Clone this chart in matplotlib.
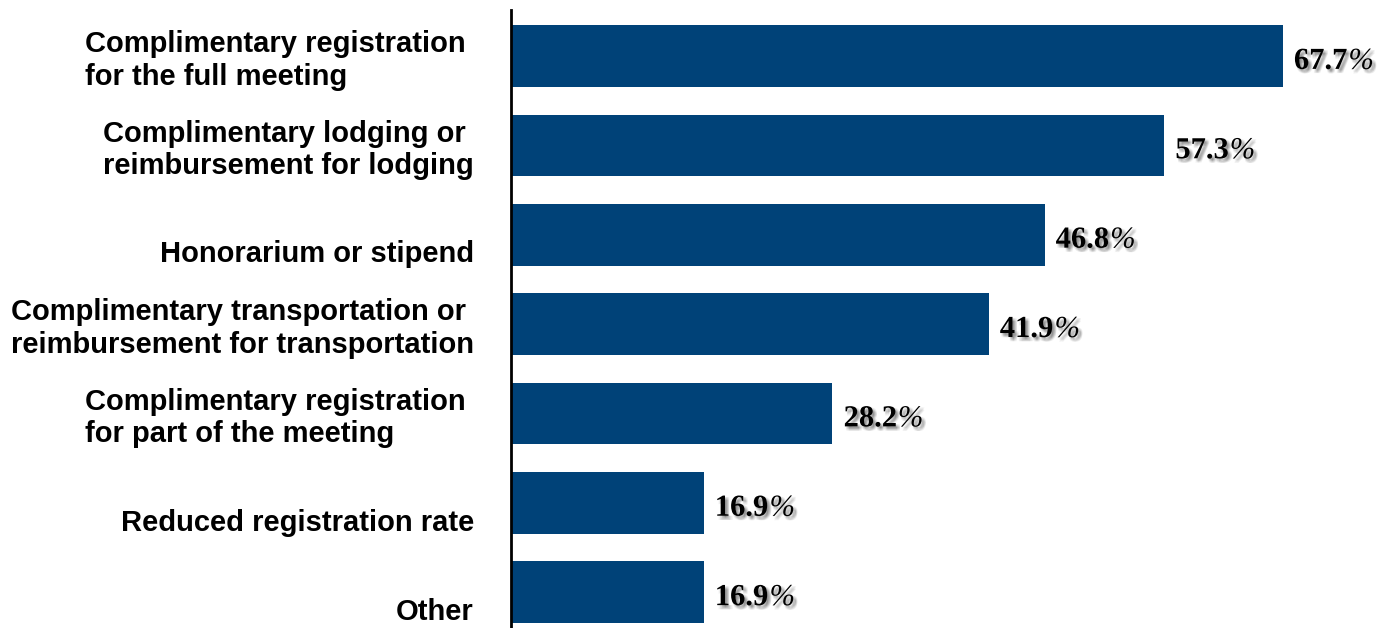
import matplotlib
matplotlib.use("Agg")
import matplotlib.pyplot as plt
import matplotlib.patheffects as pe
import matplotlib.transforms as mtransforms
import numpy as np

# --- data --- #
categories = [
    "Complimentary registration \nfor the full meeting",
    "Complimentary lodging or \nreimbursement for lodging",
    "Honorarium or stipend",
    "Complimentary transportation or \nreimbursement for transportation",
    "Complimentary registration \nfor part of the meeting",
    "Reduced registration rate",
    "Other",
]
values = [67.7, 57.3, 46.8, 41.9, 28.2, 16.9, 16.9]

W, H = 1393, 628
fig = plt.figure(figsize=(W/100, H/100), dpi=100)
ax = fig.add_axes([511/W, 0, 1 - 511/W, (628-10)/H])

y = np.arange(len(values))
ax.barh(y, values, height=0.69, color='#004278')
ax.set_xlim(0, (W - 511)/11.4)
ax.set_ylim(len(values) - 1 + 0.40, -0.515)

for s in ['top', 'right', 'bottom']:
    ax.spines[s].set_visible(False)
ax.spines['left'].set_linewidth(2)
ax.spines['left'].set_color('black')
ax.set_xticks([])
ax.set_yticks([])

# category labels, right edge just left of the axis
lab_tr = mtransforms.blended_transform_factory(ax.transAxes, ax.transData) + \
    mtransforms.ScaledTranslation(-37/100, 0, fig.dpi_scale_trans)
for i, c in enumerate(categories):
    yy = i + 0.05 if "\n" in c else i + 0.22
    ax.text(0, yy, c, transform=lab_tr, ha='right', va='center',
            multialignment='left', fontsize=21, fontweight='bold',
            family='Liberation Sans', linespacing=1.2)

# soft drop shadow: a few faint copies around the offset
shadow = []
for dx in (1, 2, 3):
    for dy in (-1, -2, -3):
        shadow.append(pe.SimplePatchShadow(offset=(dx, dy), shadow_rgbFace='black', alpha=0.06))
shadow.append(pe.Normal())

fig.canvas.draw()
r = fig.canvas.get_renderer()
for i, v in enumerate(values):
    t = ax.annotate("%.1f" % v, (v, i + 0.06),
                    xytext=(8, 0), textcoords='offset points', ha='left', va='center',
                    fontsize=22, fontweight='bold', family='Liberation Serif',
                    path_effects=shadow)
    bb = t.get_window_extent(r)
    # percent sign in light italic, right after the number
    ax.annotate("%", (bb.x1 + 1, (bb.y0 + bb.y1) / 2), xycoords='figure pixels',
                ha='left', va='center', fontsize=22, fontstyle='italic',
                family='Liberation Serif', path_effects=shadow)

fig.savefig("out.png", dpi=100)
